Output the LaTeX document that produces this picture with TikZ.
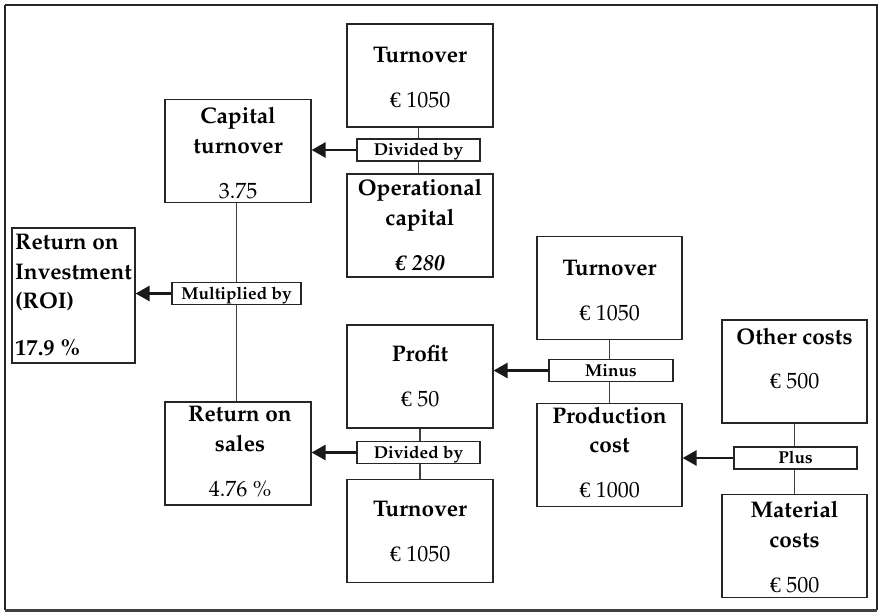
\documentclass[tikz,border=0pt]{standalone}
\usepackage{fontspec}
\newfontfamily\eurofont{Liberation Serif}
\usepackage[T1]{fontenc}
\usepackage{mathpazo}
\usetikzlibrary{arrows.meta}
\newcommand\EUR{{\eurofont €}}
\begin{document}
\begin{tikzpicture}[x=1pt,y=-1pt,
  box/.style={draw=black!85, line width=1.2pt, minimum width=146pt, minimum height=103pt, inner sep=0pt},
  opbox/.style={draw=black!85, line width=1.2pt, minimum width=123pt, minimum height=22pt, inner sep=0pt},
  txt/.style={inner sep=0pt, anchor=base, font=\fontsize{22}{26}\selectfont},
  ttl/.style={txt, font=\fontsize{22.6}{26}\selectfont\bfseries},
  optxt/.style={inner sep=0pt, anchor=base, font=\fontsize{17.2}{20}\selectfont\bfseries},
  link/.style={draw=black!75, line width=1.1pt},
  arr/.style={draw=black!90, line width=2.8pt, -{Triangle[length=14pt,width=15pt]}}]
\useasboundingbox (0,0) rectangle (878,613);
\draw[draw=black!85, line width=1.2pt] (5,5) -- (877,5) -- (877,610);
\draw[draw=black!85, line width=1.2pt] (5,5) -- (5,610);
\draw[draw=black!75, line width=2.2pt] (5,610.5) -- (877,610.5);
% boxes
\node[box] (t1) at (420,75.5) {};
\node[box, line width=1.8pt] (oc) at (420,225.5) {};
\node[box] (ct) at (238,151) {};
\node[box, minimum width=123pt, minimum height=135pt] (roi) at (73.5,295.5) {};
\node[box] (rs) at (238,453.5) {};
\node[box] (pr) at (420,376.5) {};
\node[box] (t3) at (420,531) {};
\node[box, minimum width=145pt] (t2) at (609.5,288) {};
\node[box, minimum width=145pt] (pc) at (609.5,455) {};
\node[box, minimum width=145pt] (ot) at (794.5,371.5) {};
\node[box, minimum width=145pt] (mc) at (794.5,546) {};
% operator boxes
\node[opbox] (d1) at (418.5,150) {};
\node[opbox, minimum width=129pt] (mb) at (236.5,293.5) {};
\node[opbox] (d2) at (418.5,452.5) {};
\node[opbox, minimum width=124pt] (mi) at (611,370.5) {};
\node[opbox] (pl) at (795.5,458) {};
% connectors
\draw[link] (d1.north) -- (d1.north |- t1.south);
\draw[link] (d1.south) -- (d1.south |- oc.north);
\draw[arr] (d1.west) -- (d1.west -| ct.east);
\draw[link] (mb.north) -- (mb.north |- ct.south);
\draw[link] (mb.south) -- (mb.south |- rs.north);
\draw[arr] (mb.west) -- (mb.west -| roi.east);
\draw[link] (pr.south |- d2.north) -- (pr.south);
\draw[link] (pr.south |- d2.south) -- (pr.south |- t3.north);
\draw[arr] (d2.west) -- (d2.west -| rs.east);
\draw[link] (mi.north -| t2.south) -- (t2.south);
\draw[link] (mi.south -| t2.south) -- (pc.north);
\draw[arr] (mi.west) -- (mi.west -| pr.east);
\draw[link] (pl.north -| ot.south) -- (ot.south);
\draw[link] (pl.south -| ot.south) -- (mc.north);
\draw[arr] (pl.west) -- (pl.west -| pc.east);
% operator texts
\node[optxt] (d1t) at (418.5,155.5) {Divided by};
\node[optxt] (mbt) at (236.5,299) {Multiplied by};
\node[optxt] (d2t) at (418.5,458) {Divided by};
\node[optxt] (mit) at (611,376) {Minus};
\node[optxt] (plt) at (795.5,463.5) {Plus};
% box texts
\node[ttl] (t1a) at (420,62) {Turnover};
\node[txt] (t1b) at (420,107) {\EUR\ 1050};
\node[ttl] (oca) at (420,195) {Operational};
\node[ttl] (ocb) at (420,225.5) {capital};
\node[txt] (occ) at (420,270) {\bfseries\itshape\EUR\ 280};
\node[ttl] (cta) at (238,123) {Capital};
\node[ttl] (ctb) at (238,153) {turnover};
\node[txt] (ctc) at (238,198) {3.75};
\node[ttl, anchor=base west] (roia) at (15,249) {Return on};
\node[ttl, anchor=base west] (roib) at (15,279) {Investment};
\node[ttl, anchor=base west] (roic) at (15,308.5) {(ROI)};
\node[ttl, anchor=base west] (roid) at (15,355) {17.9 \%};
\node[ttl] (rsa) at (240,421.5) {Return on};
\node[ttl] (rsb) at (240,451.5) {sales};
\node[txt] (rsc) at (240,496.5) {4.76 \%};
\node[ttl] (pra) at (420,361) {Profit};
\node[txt] (prb) at (420,406) {\EUR\ 50};
\node[ttl] (t3a) at (420,516.5) {Turnover};
\node[txt] (t3b) at (420,561.5) {\EUR\ 1050};
\node[ttl] (t2a) at (609.5,275) {Turnover};
\node[txt] (t2b) at (609.5,320) {\EUR\ 1050};
\node[ttl] (pca) at (609.5,423) {Production};
\node[ttl] (pcb) at (609.5,452.5) {cost};
\node[txt] (pcc) at (609.5,497) {\EUR\ 1000};
\node[ttl] (ota) at (794.5,344) {Other costs};
\node[txt] (otb) at (794.5,388.5) {\EUR\ 500};
\node[ttl] (mca) at (794.5,517) {Material};
\node[ttl] (mcb) at (794.5,547) {costs};
\node[txt] (mcc) at (794.5,592) {\EUR\ 500};
\end{tikzpicture}
\end{document}
